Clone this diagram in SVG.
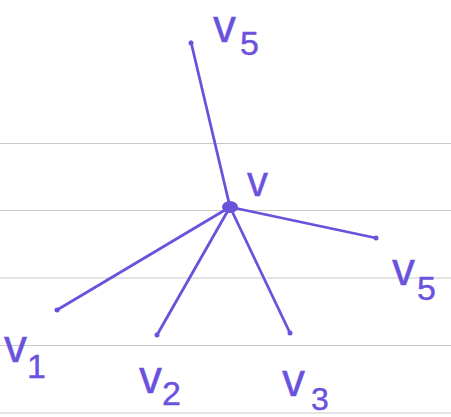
<svg xmlns="http://www.w3.org/2000/svg" width="451" height="417" viewBox="0 0 451 417">
<style>
.rule{stroke:#c9c9c9;stroke-width:1.2}
.edge{stroke:#6a52dc;stroke-width:2.8;stroke-linecap:round;fill:none}
.dot{fill:#6a52dc}
.lbl{font-family:"Liberation Sans",sans-serif;font-size:46px;fill:#6a52dc;stroke:#6a52dc;stroke-width:0.4}
.sub{font-size:34px}
</style>
<rect width="451" height="417" fill="#ffffff"/>
<g id="paper">
<line class="rule" x1="0" y1="143.5" x2="451" y2="143.5"/>
<line class="rule" x1="0" y1="210.5" x2="451" y2="210.5"/>
<line class="rule" x1="0" y1="278" x2="451" y2="278"/>
<line class="rule" x1="0" y1="345.5" x2="451" y2="345.5"/>
<line class="rule" x1="0" y1="413" x2="451" y2="413"/>
</g>
<g id="connectors">
<line class="edge" x1="230" y1="207" x2="191" y2="42"/>
<line class="edge" x1="230" y1="207" x2="57" y2="310"/>
<line class="edge" x1="230" y1="207" x2="157" y2="335"/>
<line class="edge" x1="230" y1="207" x2="290" y2="333"/>
<line class="edge" x1="230" y1="207" x2="376" y2="238"/>
</g>
<g id="v">
<ellipse class="dot" cx="230" cy="207" rx="8" ry="6"/>
<text class="lbl" x="247" y="196" style="font-size:42px">v</text>
</g>
<g id="v5top">
<circle class="dot" cx="191" cy="43" r="2.5"/>
<text class="lbl" x="213" y="42">v<tspan class="sub" dx="4" dy="13">5</tspan></text>
</g>
<g id="v1">
<circle class="dot" cx="57" cy="310" r="2.5"/>
<text class="lbl" x="4" y="362">v<tspan class="sub" dy="16">1</tspan></text>
</g>
<g id="v2">
<circle class="dot" cx="157" cy="335" r="2.5"/>
<text class="lbl" x="139" y="393">v<tspan class="sub" dy="12">2</tspan></text>
</g>
<g id="v3">
<circle class="dot" cx="290" cy="333" r="2.5"/>
<text class="lbl" x="282" y="396">v<tspan class="sub" dx="6" dy="14" style="font-size:32px">3</tspan></text>
</g>
<g id="v5right">
<circle class="dot" cx="376" cy="238" r="2.5"/>
<text class="lbl" x="392" y="285">v<tspan class="sub" dx="2" dy="15">5</tspan></text>
</g>
</svg>
